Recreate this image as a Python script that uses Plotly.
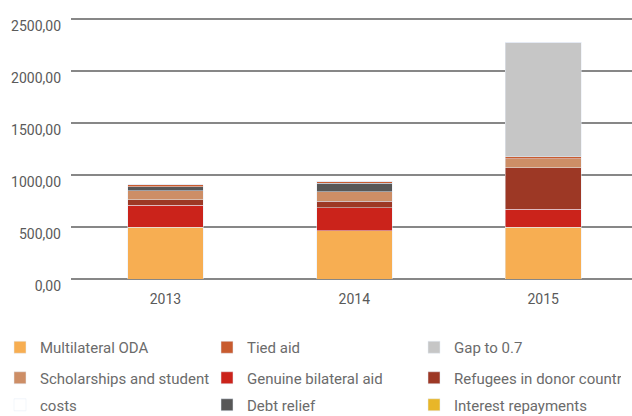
import plotly.graph_objects as go

years = ["2013", "2014", "2015"]

multilateral = [500, 462, 500]
genuine_bilateral = [209, 224, 173]
refugees = [51, 64, 396]
scholarships = [87, 87, 87]
debt_relief = [41, 86, 0]
tied_aid = [17, 19, 19]
gap_07 = [0, 0, 1100]
interest = [0, 0, 0]

FONT = "Roboto, Liberation Sans, sans-serif"

# stacking order bottom -> top: (name, values, colour, legend row, column)
series = [
    ("Multilateral ODA", multilateral, "#F7AE52", "legend", 1),
    ("Genuine bilateral aid", genuine_bilateral, "#CB231B", "legend2", 2),
    ("Refugees in donor countries", refugees, "#9D3825", "legend2", 3),
    ("Scholarships and student", scholarships, "#CD8E66", "legend2", 1),
    ("Debt relief", debt_relief, "#575757", "legend3", 2),
    ("Tied aid", tied_aid, "#C85B2F", "legend", 2),
    ("Gap to 0.7", gap_07, "#C6C6C6", "legend", 3),
    ("Interest repayments", interest, "#E8B628", "legend3", 3),
]

fig = go.Figure()
for name, vals, col, leg, rank in series:
    fig.add_trace(go.Bar(x=years, y=vals, name=name, marker_color=col,
                         legend=leg, legendrank=rank, width=0.4))

# second line of the scholarships label
fig.add_trace(go.Bar(x=years, y=[0, 0, 0], name="costs", marker_color="rgba(0,0,0,0)",
                     legend="legend3", legendrank=1, width=0.4, hoverinfo="skip"))

PLOT_H = 262  # px between top and bottom margin
PLOT_W = 561
leg_style = dict(orientation="h", xref="paper", yref="paper",
                 x=-71 / PLOT_W, xanchor="left", yanchor="top",
                 entrywidth=162, traceorder="normal", bgcolor="rgba(0,0,0,0)",
                 font=dict(family=FONT, size=15, color="#6b6b6b"))

fig.update_layout(
    barmode="stack",
    width=632, height=416,
    margin=dict(l=71, r=0, t=17, b=137, autoexpand=False),
    plot_bgcolor="white", paper_bgcolor="white",
    separators=",.",
    font=dict(family=FONT, color="#5a5a5a", size=14),
    showlegend=True,
    legend=dict(leg_style, y=(279 - 331) / PLOT_H),
    legend2=dict(leg_style, y=(279 - 361.5) / PLOT_H),
    legend3=dict(leg_style, y=(279 - 388.5) / PLOT_H),
    xaxis=dict(range=[-0.5, 2.47], showgrid=False, showline=False,
               ticklabelstandoff=10,
               tickfont=dict(size=14, color="#5a5a5a")),
    yaxis=dict(range=[0, 2520], tickvals=[0, 500, 1000, 1500, 2000, 2500],
               tickformat=".2f",
               gridcolor="#878787", gridwidth=1.5,
               zeroline=True, zerolinecolor="#878787", zerolinewidth=1.5,
               ticklabelstandoff=9, ticklabelshift=7,
               tickfont=dict(size=14, color="#5a5a5a")),
)

fig.write_html("out.html", config={"displayModeBar": False},
               post_script="document.body.style.margin='0';")
